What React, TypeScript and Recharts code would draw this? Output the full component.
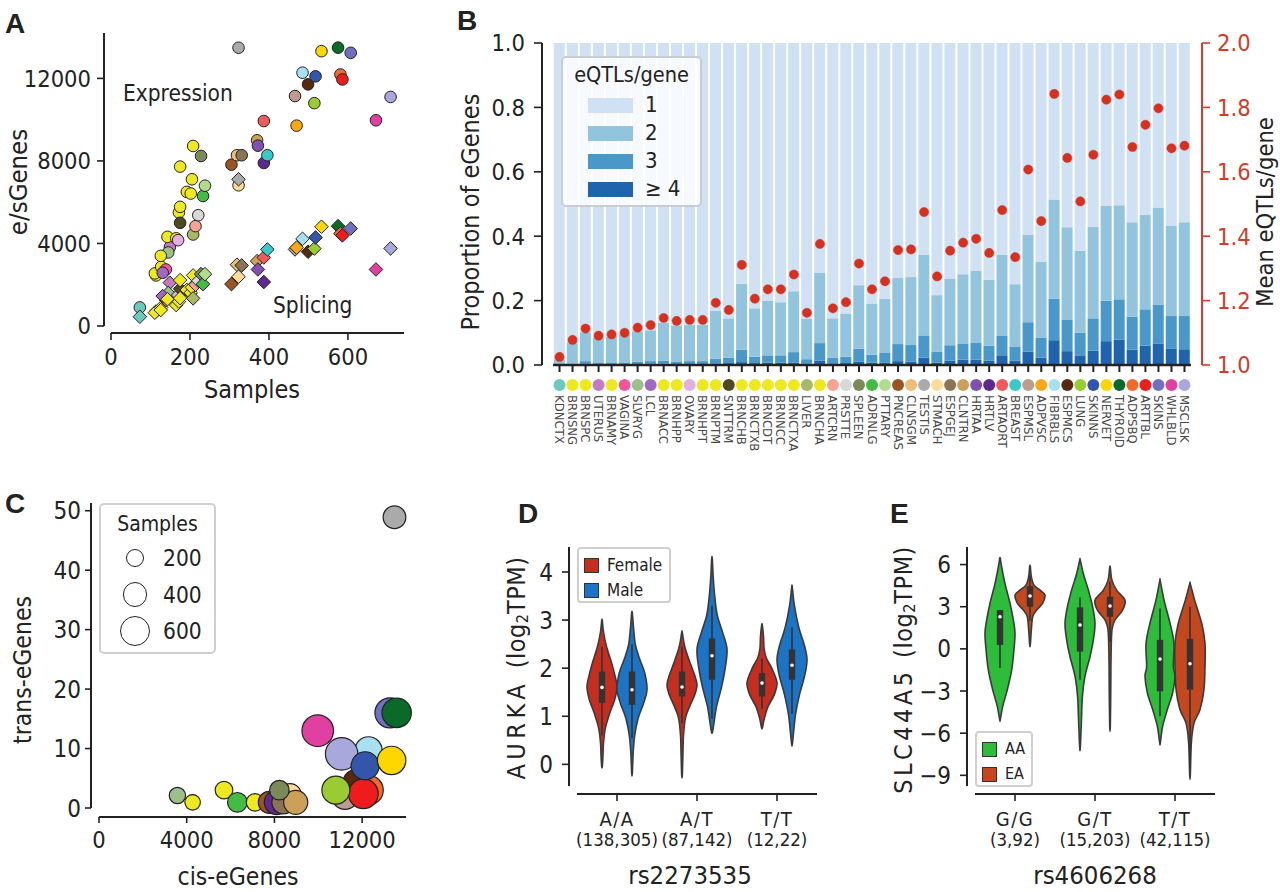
import React from 'react';
import {
  ScatterChart,
  Scatter,
  XAxis,
  YAxis,
  ZAxis,
  Cell,
  ComposedChart,
  BarChart,
  Bar,
  Line,
} from 'recharts';

const FONT = "'Liberation Sans Narrow', 'DejaVu Sans Condensed', 'Roboto Condensed', 'Liberation Sans', sans-serif";
const INK = '#222';
const RED = '#d33b2a';

// tissues in the order of panel B
const tissues = [
  'KDNCTX', 'BRNSNG', 'BRNSPC', 'UTERUS', 'BRNAMY', 'VAGINA', 'SLVRYG', 'LCL', 'BRNACC', 'BRNHPP',
  'OVARY', 'BRNHPT', 'BRNPTM', 'SNTTRM', 'BRNCHB', 'BRNCTXB', 'BRNCDT', 'BRNNCC', 'BRNCTXA', 'LIVER',
  'BRNCHA', 'ARTCRN', 'PRSTTE', 'SPLEEN', 'ADRNLG', 'PTTARY', 'PNCREAS', 'CLNSGM', 'TESTIS', 'STMACH',
  'ESPGEJ', 'CLNTRN', 'HRTAA', 'HRTLV', 'ARTAORT', 'BREAST', 'ESPMSL', 'ADPVSC', 'FIBRBLS', 'ESPMCS',
  'LUNG', 'SKINNS', 'NERVET', 'THYROID', 'ADPSBQ', 'ARTTBL', 'SKINS', 'WHLBLD', 'MSCLSK',
];
const tissueColors = [
  '#6cc9be', '#eee81e', '#eee81e', '#c47ac0', '#eee81e', '#f2559e', '#9dbf8c', '#a068c0', '#eee81e', '#eee81e',
  '#e5aee0', '#eee81e', '#eee81e', '#4f4a1e', '#eee81e', '#eee81e', '#eee81e', '#eee81e', '#eee81e', '#a8b868',
  '#eee81e', '#f5a394', '#d8d8d8', '#7a8a58', '#44bb44', '#b0dc90', '#9a5525', '#edbd7a', '#aaaaaa', '#fddc9a',
  '#8b7355', '#cda05a', '#8050b0', '#5e2890', '#f25a5a', '#3cc8c8', '#bc9c8c', '#fba818', '#a8e0f2', '#552a10',
  '#99cc33', '#3355aa', '#ffd700', '#0a6a2a', '#f26a2a', '#ee1c1c', '#7070c0', '#e040a0', '#a8a8dd',
];

// panel A
const samples = [
  73, 114, 111, 149, 127, 139, 145, 131, 143, 165, 170, 126, 172, 175, 175, 175, 192, 202, 205, 208,
  208, 214, 221, 228, 233, 238, 305, 319, 323, 323, 331, 370, 372, 387, 387, 396, 466, 470, 485, 499,
  515, 518, 533, 575, 581, 586, 607, 671, 708,
];
const eGenes = [
  900, 2450, 2550, 3820, 2870, 2740, 3565, 2580, 4320, 4250, 4160, 3400, 5500, 5000, 7725, 5775, 6500, 6420, 7110, 4435,
  8725, 4840, 5370, 8240, 6300, 6800, 7820, 8275, 13485, 6820, 8275, 9000, 8740, 7900, 9935, 8275, 11145, 9710, 12275, 11710,
  10800, 12100, 13320, 13490, 12190, 11950, 13240, 9970, 11100,
];
const sGenes = [
  450, 700, 645, 2100, 900, 1260, 1600, 1450, 1300, 1015, 1500, 775, 1180, 1800, 2225, 1350, 1750, 1610, 1870, 1340,
  2450, 2000, 2190, 2515, 2030, 2515, 2030, 2970, 7110, 2390, 2935, 3145, 2740, 2130, 3320, 3710, 3710, 3800, 4225, 3600,
  3750, 4290, 4810, 4840, 4480, 4390, 4725, 2740, 3760,
];

// panel B
const propTwo = [
  0.015, 0.067, 0.09, 0.079, 0.082, 0.089, 0.095, 0.096, 0.117, 0.112, 0.112, 0.112, 0.148, 0.123, 0.205, 0.15, 0.169, 0.165, 0.189, 0.126,
  0.218, 0.123, 0.134, 0.197, 0.159, 0.167, 0.205, 0.211, 0.25, 0.175, 0.208, 0.215, 0.222, 0.205, 0.253, 0.195, 0.272, 0.236, 0.308, 0.288,
  0.255, 0.284, 0.294, 0.292, 0.293, 0.294, 0.301, 0.28, 0.291,
];
const propThree = [
  0.002, 0.003, 0.007, 0.004, 0.004, 0.004, 0.007, 0.008, 0.01, 0.008, 0.009, 0.009, 0.015, 0.016, 0.038, 0.02, 0.023, 0.023, 0.032, 0.014,
  0.054, 0.017, 0.02, 0.041, 0.025, 0.031, 0.053, 0.051, 0.069, 0.034, 0.048, 0.05, 0.053, 0.047, 0.062, 0.043, 0.092, 0.061, 0.129, 0.097,
  0.07, 0.1, 0.126, 0.125, 0.102, 0.113, 0.121, 0.102, 0.103,
];
const propFourPlus = [
  0.001, 0.001, 0.005, 0.002, 0.002, 0.002, 0.003, 0.004, 0.004, 0.003, 0.003, 0.003, 0.005, 0.006, 0.009, 0.006, 0.007, 0.007, 0.008, 0.004,
  0.014, 0.005, 0.006, 0.01, 0.007, 0.008, 0.012, 0.011, 0.023, 0.008, 0.013, 0.017, 0.017, 0.013, 0.028, 0.013, 0.041, 0.023, 0.077, 0.043,
  0.03, 0.045, 0.074, 0.079, 0.048, 0.06, 0.067, 0.05, 0.049,
];
const meanEqtls = [
  1.025, 1.078, 1.113, 1.091, 1.095, 1.1, 1.116, 1.124, 1.146, 1.137, 1.14, 1.14, 1.193, 1.171, 1.311, 1.206, 1.235, 1.235, 1.281, 1.162,
  1.376, 1.176, 1.195, 1.315, 1.235, 1.26, 1.357, 1.359, 1.475, 1.275, 1.355, 1.38, 1.392, 1.348, 1.481, 1.335, 1.607, 1.447, 1.842, 1.643,
  1.508, 1.653, 1.824, 1.84, 1.677, 1.746, 1.797, 1.673, 1.681,
];
const eqtlLevels = ['1', '2', '3', '\u2265 4'];
const eqtlColors = ['#cfe1f2', '#93c4de', '#4a98c9', '#1f64ad'];

// panel C
const transTissues = [
  'SLVRYG', 'BRNHPT', 'BRNCTXB', 'ADRNLG', 'BRNCHB', 'STMACH', 'PNCREAS', 'HRTLV', 'ESPGEJ', 'CLNTRN',
  'SPLEEN', 'WHLBLD', 'FIBRBLS', 'MSCLSK', 'ESPMSL', 'ESPMCS', 'ADPSBQ', 'ARTTBL', 'LUNG', 'SKINNS',
  'NERVET', 'SKINS', 'THYROID', 'TESTIS',
];
const transCis = [
  3575, 4270, 5700, 6310, 7115, 8710, 7770, 8100, 8405, 8970, 8225, 9975, 12290, 11065, 11220, 11750, 12290, 12055, 10800, 12135,
  13345, 13270, 13575, 13475,
];
const transCount = [
  2.1, 0.95, 3.0, 0.95, 0.95, 2.2, 0.95, 0.95, 0.95, 0.95, 3.0, 13.0, 9.7, 9.1, 2.0, 4.2, 3.0, 2.4, 3.0, 7.1,
  8.0, 16.0, 16.0, 48.9,
];
const sampleLegend = [200, 400, 600];

// panel D: violin outlines as [value, relative half-width], boxes as [q1, median, q3, whiskerLow, whiskerHigh]
const aurkaGenotypes = ['A/A', 'A/T', 'T/T'];
const aurkaCounts = ['(138,305)', '(87,142)', '(12,22)'];
const aurkaFemaleShapes = [
  [[2.99, 0.02], [2.75, 0.1], [2.45, 0.3], [2.1, 0.65], [1.8, 0.9], [1.6, 1.0], [1.35, 0.85], [1.05, 0.5], [0.75, 0.22], [0.45, 0.1], [0.15, 0.06], [-0.05, 0.02]],
  [[2.74, 0.02], [2.45, 0.18], [2.1, 0.55], [1.85, 0.85], [1.65, 1.0], [1.45, 0.85], [1.2, 0.5], [0.95, 0.22], [0.6, 0.1], [0.2, 0.06], [-0.23, 0.02]],
  [[2.9, 0.02], [2.66, 0.1], [2.4, 0.14], [2.2, 0.3], [2.0, 0.65], [1.7, 1.0], [1.45, 0.82], [1.2, 0.4], [0.95, 0.15], [0.76, 0.03]],
];
const aurkaMaleShapes = [
  [[3.15, 0.02], [2.85, 0.1], [2.5, 0.22], [2.2, 0.5], [1.9, 0.85], [1.55, 1.0], [1.25, 0.75], [0.95, 0.4], [0.6, 0.18], [0.25, 0.08], [-0.19, 0.02]],
  [[4.28, 0.02], [3.9, 0.08], [3.5, 0.18], [3.1, 0.35], [2.75, 0.7], [2.4, 1.0], [2.0, 0.88], [1.6, 0.63], [1.2, 0.3], [0.9, 0.15], [0.67, 0.03]],
  [[3.68, 0.02], [3.3, 0.16], [2.85, 0.45], [2.45, 0.85], [2.17, 1.0], [1.85, 0.85], [1.45, 0.5], [1.05, 0.24], [0.65, 0.1], [0.41, 0.02]],
];
const aurkaFemaleBoxes = [[1.28, 1.6, 1.93, 0.6, 2.45], [1.41, 1.61, 1.93, 0.85, 2.45], [1.41, 1.69, 1.9, 1.15, 2.2]];
const aurkaMaleBoxes = [[1.24, 1.55, 1.93, 0.55, 2.5], [1.76, 2.26, 2.62, 0.95, 3.3], [1.76, 2.06, 2.39, 1.05, 2.85]];

// panel E
const slcGenotypes = ['G/G', 'G/T', 'T/T'];
const slcCounts = ['(3,92)', '(15,203)', '(42,115)'];
const slcAAShapes = [
  [[6.43, 0.02], [5.83, 0.11], [4.65, 0.33], [3.24, 0.67], [2.05, 0.89], [1.11, 1.0], [-0.07, 0.93], [-1.49, 0.78], [-2.9, 0.49], [-4.09, 0.18], [-5.03, 0.02]],
  [[6.31, 0.02], [5.36, 0.22], [4.18, 0.56], [3.0, 0.84], [1.82, 1.0], [0.64, 0.89], [-0.54, 0.67], [-1.96, 0.33], [-3.38, 0.16], [-5.27, 0.09], [-7.04, 0.02]],
  [[4.82, 0.02], [3.47, 0.27], [1.82, 0.67], [0.4, 0.93], [-1.25, 0.89], [-1.96, 1.0], [-3.14, 0.84], [-4.32, 0.49], [-5.5, 0.18], [-6.69, 0.02]],
];
const slcEAShapes = [
  [[5.88, 0.02], [5.13, 0.09], [4.54, 0.27], [4.18, 0.67], [3.83, 1.0], [3.24, 0.84], [2.76, 0.44], [2.29, 0.18], [1.35, 0.09], [0.28, 0.02]],
  [[5.79, 0.02], [4.89, 0.13], [4.18, 0.44], [3.47, 1.0], [2.76, 0.84], [2.05, 0.33], [1.35, 0.13], [-0.54, 0.07], [-3.0, 0.05], [-5.55, 0.02]],
  [[4.61, 0.02], [3.47, 0.31], [1.82, 0.78], [0.4, 1.0], [-1.25, 1.0], [-2.9, 0.93], [-4.32, 0.67], [-5.27, 0.27], [-6.69, 0.09], [-9.0, 0.02]],
];
const slcAABoxes = [[0.28, 2.29, 2.76, -1.37, 2.76], [-0.19, 1.7, 2.95, -2.2, 3.66], [-3.02, -0.73, 0.64, -4.8, 2.88]];
const slcEABoxes = [[3.0, 3.76, 4.46, 2.0, 5.2], [2.29, 3.05, 3.71, 0.5, 4.8], [-2.9, -1.06, 0.71, -8.46, 3.0]];

const FEMALE = '#c62d1f';
const MALE = '#1b74c5';
const AA = '#2ebd3a';
const EA = '#c4471d';

// ---------- helpers

const colorOf: Record<string, string> = {};
tissues.forEach((t, i) => (colorOf[t] = tissueColors[i]));
const samplesOf: Record<string, number> = {};
tissues.forEach((t, i) => (samplesOf[t] = samples[i]));

const expressionPoints = tissues.map((t, i) => ({ tissue: t, samples: samples[i], genes: eGenes[i], color: tissueColors[i] }));
const splicingPoints = tissues.map((t, i) => ({ tissue: t, samples: samples[i], genes: sGenes[i], color: tissueColors[i] }));

const eqtlRows = tissues.map((t, i) => ({
  tissue: t,
  four: propFourPlus[i],
  three: propThree[i],
  two: propTwo[i],
  one: 1 - propFourPlus[i] - propThree[i] - propTwo[i],
  mean: meanEqtls[i],
}));

const transRows = transTissues.map((t, i) => ({ tissue: t, cis: transCis[i], trans: transCount[i], samples: samplesOf[t], color: colorOf[t] }));

// bubble area = 52 + 1.09 * samples (px^2), same mapping as the ZAxis below
const Z_DOMAIN = [0, 720];
const Z_RANGE = [52, 52 + 720 * 1.09];
const bubbleRadius = (s: number) => Math.sqrt((Z_RANGE[0] + ((Z_RANGE[1] - Z_RANGE[0]) * s) / Z_DOMAIN[1]) / Math.PI);

function violin(shape: number[][], box: number[]) {
  return { profile: shape, hi: shape[0][0], lo: shape[shape.length - 1][0], box };
}

const aurkaRows = aurkaGenotypes.map((g, i) => ({
  genotype: g,
  count: aurkaCounts[i],
  a: violin(aurkaFemaleShapes[i], aurkaFemaleBoxes[i]),
  b: violin(aurkaMaleShapes[i], aurkaMaleBoxes[i]),
}));
const slcRows = slcGenotypes.map((g, i) => ({
  genotype: g,
  count: slcCounts[i],
  a: violin(slcAAShapes[i], slcAABoxes[i]),
  b: violin(slcEAShapes[i], slcEABoxes[i]),
}));

function closedCurve(pts: number[][]) {
  const n = pts.length;
  let d = `M${pts[0][0]},${pts[0][1]}`;
  for (let i = 0; i < n; i++) {
    const p0 = pts[(i - 1 + n) % n];
    const p1 = pts[i];
    const p2 = pts[(i + 1) % n];
    const p3 = pts[(i + 2) % n];
    d += `C${p1[0] + (p2[0] - p0[0]) / 6},${p1[1] + (p2[1] - p0[1]) / 6} ${p2[0] - (p3[0] - p1[0]) / 6},${p2[1] - (p3[1] - p1[1]) / 6} ${p2[0]},${p2[1]}`;
  }
  return d + 'Z';
}

const violinShape = (key: 'a' | 'b', fill: string) => (props: any) => {
  const { x, y, width, height, payload } = props;
  const v = payload[key];
  const toY = (val: number) => y + ((v.hi - val) / (v.hi - v.lo)) * height;
  const cx = x + width / 2;
  const half = width / 2;
  const right = v.profile.map(([val, w]: number[]) => [cx + w * half, toY(val)]);
  const left = v.profile.slice().reverse().map(([val, w]: number[]) => [cx - w * half, toY(val)]);
  const [q1, med, q3, wlo, whi] = v.box;
  return (
    <g>
      <path d={closedCurve(right.concat(left))} fill={fill} stroke="#3a3a3a" strokeWidth={1.6} />
      <line x1={cx} x2={cx} y1={toY(whi)} y2={toY(wlo)} stroke="#333" strokeWidth={1.6} />
      <rect x={cx - 3.2} width={6.4} y={toY(q3)} height={toY(q1) - toY(q3)} fill="#333" />
      <circle cx={cx} cy={toY(med)} r={1.8} fill="#fff" />
    </g>
  );
};

const CircleMark = (p: any) => <circle cx={p.cx} cy={p.cy} r={5.8} fill={p.payload.color} stroke={INK} strokeWidth={1} />;
const DiamondMark = (p: any) => (
  <polygon
    points={`${p.cx},${p.cy - 6.8} ${p.cx + 6.8},${p.cy} ${p.cx},${p.cy + 6.8} ${p.cx - 6.8},${p.cy}`}
    fill={p.payload.color}
    stroke={INK}
    strokeWidth={1}
  />
);

// axis title placed in the chart's svg; "rot" instead of "angle" so the Label defaults do not override it
const AxisTitle = ({ tx, ty, text, rot = 0, size = 24, fill = INK, children }: any) => (
  <text
    x={tx}
    y={ty}
    transform={rot ? `rotate(${rot},${tx},${ty})` : undefined}
    textAnchor="middle"
    dominantBaseline="central"
    fontSize={size}
    fill={fill}
  >
    {children || text}
  </text>
);

// numeric tick with an explicit font size (size / color / fmt do not clash with the props recharts injects)
const NumTick = (props: any) => {
  const { x, y, payload, textAnchor, verticalAnchor, size = 23.5, color = INK, fmt } = props;
  const label = fmt ? fmt(payload.value) : String(payload.value);
  const dy = verticalAnchor === 'start' ? '0.71em' : verticalAnchor === 'end' ? '0' : '0.355em';
  return (
    <text x={x} y={y} dy={dy} textAnchor={textAnchor} fontSize={size} fill={color}>
      {label}
    </text>
  );
};

const TissueTick = (props: any) => {
  const { x, y, payload } = props;
  const name = payload.value;
  return (
    <g>
      <circle cx={x} cy={y + 13} r={6} fill={colorOf[name]} />
      <text transform={`translate(${x},${y + 23}) rotate(90)`} textAnchor="start" dominantBaseline="central" fontSize={13} fill="#4a4a4a">
        {name}
      </text>
    </g>
  );
};

const GenotypeTick = (props: any) => {
  const { x, y, payload, index, counts } = props;
  return (
    <g>
      <text x={x} y={y + 25} textAnchor="middle" fontSize={20} fill={INK} letterSpacing={1.5}>
        {payload.value}
      </text>
      <text x={x} y={y + 45} textAnchor="middle" fontSize={18.5} fill={INK}>
        {counts[index]}
      </text>
    </g>
  );
};

const spine = { stroke: INK, strokeWidth: 2 };
const tickLine = { stroke: INK, strokeWidth: 1.6 };
const minusFmt = (v: number) => (v < 0 ? `\u2212${-v}` : `${v}`);
const oneDecimal = (v: number) => v.toFixed(1);

const PanelLetter = ({ left, top, text }: any) => (
  <div style={{ position: 'absolute', left, top, fontFamily: "'Liberation Sans', Arial, sans-serif", fontWeight: 700, fontSize: 28, lineHeight: '28px' }}>
    {text}
  </div>
);

function PanelA() {
  return (
    <div style={{ position: 'absolute', left: 0, top: 0 }}>
      <ScatterChart width={420} height={410} margin={{ top: 33, right: 16, bottom: 0, left: 0 }}>
        <XAxis
          type="number"
          dataKey="samples"
          domain={[0, 742]}
          ticks={[0, 200, 400, 600]}
          padding={{ left: 7 }}
          height={77}
          tickSize={7}
          tickMargin={8}
          tick={<NumTick />}
          tickLine={tickLine}
          axisLine={{ ...spine, strokeDasharray: '0 7 293 20' }}
          label={<AxisTitle tx={252} ty={389} text="Samples" size={25} />}
        />
        <YAxis
          type="number"
          dataKey="genes"
          domain={[0, 14200]}
          ticks={[0, 4000, 8000, 12000]}
          padding={{ bottom: 7 }}
          width={104}
          tickSize={7}
          tickMargin={6}
          tick={<NumTick />}
          tickLine={tickLine}
          axisLine={{ ...spine, strokeDasharray: '293 20' }}
          label={<AxisTitle tx={18} ty={182} rot={-90} text="e/sGenes" size={25.5} />}
        />
        <Scatter data={expressionPoints} shape={CircleMark} isAnimationActive={false} />
        <Scatter data={splicingPoints} shape={DiamondMark} isAnimationActive={false} />
      </ScatterChart>
      <div style={{ position: 'absolute', left: 123, top: 82, fontSize: 22.5, lineHeight: '23px', whiteSpace: 'nowrap' }}>Expression</div>
      <div style={{ position: 'absolute', left: 273, top: 294, fontSize: 22.5, lineHeight: '23px', whiteSpace: 'nowrap' }}>Splicing</div>
    </div>
  );
}

function PanelB() {
  const keys = ['one', 'two', 'three', 'four'];
  return (
    <div style={{ position: 'absolute', left: 440, top: 0 }}>
      <ComposedChart width={840} height={460} data={eqtlRows} margin={{ top: 43, right: 0, bottom: 0, left: 0 }} barCategoryGap={0.8}>
        <XAxis
          dataKey="tissue"
          interval={0}
          padding={{ left: 11, right: 11 }}
          height={95}
          tickSize={7}
          tickMargin={0}
          tick={<TissueTick />}
          tickLine={{ stroke: INK, strokeWidth: 2 }}
          axisLine={{ stroke: INK, strokeWidth: 2.6, strokeDasharray: '0 11 638 20' }}
        />
        <YAxis
          yAxisId="left"
          domain={[0, 1]}
          ticks={[0, 0.2, 0.4, 0.6, 0.8, 1]}
          width={102}
          tickSize={8}
          tickMargin={9}
          tick={<NumTick fmt={oneDecimal} />}
          tickLine={tickLine}
          axisLine={spine}
          label={<AxisTitle tx={30} ty={212} rot={-90} text="Proportion of eGenes" size={25} />}
        />
        <YAxis
          yAxisId="right"
          orientation="right"
          domain={[1, 2]}
          ticks={[1, 1.2, 1.4, 1.6, 1.8, 2]}
          width={78}
          tickSize={8}
          tickMargin={7}
          tick={<NumTick color={RED} fmt={oneDecimal} />}
          tickLine={{ stroke: RED, strokeWidth: 1.6 }}
          axisLine={{ stroke: RED, strokeWidth: 2 }}
          label={<AxisTitle tx={825} ty={212} rot={-90} text="Mean eQTLs/gene" size={23.5} />}
        />
        {keys
          .slice()
          .reverse()
          .map((k) => (
            <Bar key={k} yAxisId="left" dataKey={k} stackId="s" fill={eqtlColors[keys.indexOf(k)]} isAnimationActive={false} />
          ))}
        <Line
          yAxisId="right"
          dataKey="mean"
          stroke="none"
          dot={{ r: 4.6, fill: '#d7301f', stroke: '#d7301f', strokeWidth: 0.5 }}
          activeDot={false}
          isAnimationActive={false}
        />
      </ComposedChart>
      <div
        style={{
          position: 'absolute',
          left: 121,
          top: 56,
          width: 141,
          height: 151,
          boxSizing: 'border-box',
          border: '2px solid #c9ccd0',
          borderRadius: 5,
          background: 'rgba(255,255,255,0.8)',
        }}
      >
        <div style={{ position: 'absolute', left: 0, width: 137, top: 6, textAlign: 'center', fontSize: 21.5, lineHeight: '22px' }}>eQTLs/gene</div>
        {eqtlLevels.map((lv, i) => (
          <div key={lv} style={{ position: 'absolute', left: 25, top: 36 + i * 28, display: 'flex', alignItems: 'center' }}>
            <div style={{ width: 45, height: 15, background: eqtlColors[i] }} />
            <div style={{ marginLeft: 12, fontSize: 22, lineHeight: '22px' }}>{lv}</div>
          </div>
        ))}
      </div>
    </div>
  );
}

function PanelC() {
  return (
    <div style={{ position: 'absolute', left: 0, top: 480 }}>
      <ScatterChart width={420} height={412} margin={{ top: 23, right: 14, bottom: 0, left: 0 }}>
        <XAxis
          type="number"
          dataKey="cis"
          domain={[0, 14000]}
          ticks={[0, 4000, 8000, 12000]}
          padding={{ left: 8 }}
          height={75}
          tickSize={6}
          tickMargin={8}
          tick={<NumTick />}
          tickLine={tickLine}
          axisLine={{ ...spine, strokeDasharray: '0 8 307 20' }}
          label={<AxisTitle tx={238} ty={396} text="cis-eGenes" size={24.5} />}
        />
        <YAxis
          type="number"
          dataKey="trans"
          domain={[0, 51.3]}
          ticks={[0, 10, 20, 30, 40, 50]}
          padding={{ bottom: 9 }}
          width={91}
          tickSize={6}
          tickMargin={4}
          tick={<NumTick size={24} />}
          tickLine={tickLine}
          axisLine={{ ...spine, strokeDasharray: '305 20' }}
          label={<AxisTitle tx={22} ty={190} rot={-90} text="trans-eGenes" size={24.5} />}
        />
        <ZAxis type="number" dataKey="samples" domain={Z_DOMAIN} range={Z_RANGE} />
        <Scatter data={transRows} shape="circle" isAnimationActive={false}>
          {transRows.map((d) => (
            <Cell key={d.tissue} fill={d.color} stroke={INK} strokeWidth={1.2} />
          ))}
        </Scatter>
      </ScatterChart>
      <div
        style={{
          position: 'absolute',
          left: 99,
          top: 23,
          width: 117,
          height: 151,
          boxSizing: 'border-box',
          border: '2px solid #cfcfcf',
          borderRadius: 5,
          background: '#fff',
        }}
      >
        <div style={{ position: 'absolute', left: 0, width: 113, top: 9, textAlign: 'center', fontSize: 21, lineHeight: '21px' }}>Samples</div>
        {sampleLegend.map((s, i) => {
          const r = bubbleRadius(s);
          return (
            <div key={s}>
              <div
                style={{
                  position: 'absolute',
                  left: 34 - r,
                  top: 53 + i * 36.5 - r,
                  width: 2 * r,
                  height: 2 * r,
                  boxSizing: 'border-box',
                  border: '1.3px solid #222',
                  borderRadius: '50%',
                }}
              />
              <div style={{ position: 'absolute', left: 62, top: 42 + i * 36.5, fontSize: 22.5, lineHeight: '22px' }}>{s}</div>
            </div>
          );
        })}
      </div>
    </div>
  );
}

function ViolinPanel({ left, rows, domain, ticks, colors, labels, yTitle, xTitle, legendPos }: any) {
  return (
    <div style={{ position: 'absolute', left, top: 500 }}>
      <BarChart
        width={420}
        height={392}
        data={rows}
        margin={{ top: 47, right: legendPos.chartRight, bottom: 0, left: 0 }}
        barGap={0}
        barCategoryGap={10}
      >
        <XAxis
          dataKey="genotype"
          padding={{ left: 8, right: 0 }}
          height={98}
          tickSize={7}
          tickMargin={0}
          tick={<GenotypeTick counts={rows.map((r: any) => r.count)} />}
          tickLine={tickLine}
          axisLine={{ ...spine, strokeDasharray: '0 8 240 20' }}
          label={<AxisTitle tx={legendPos.xTitleX} ty={375} text={xTitle} size={25.5} />}
        />
        <YAxis
          type="number"
          domain={domain}
          ticks={ticks}
          padding={{ bottom: 8 }}
          width={legendPos.axisWidth}
          tickSize={7}
          tickMargin={9}
          tick={<NumTick size={24} fmt={minusFmt} />}
          tickLine={tickLine}
          axisLine={{ ...spine, strokeDasharray: '239 20' }}
          label={yTitle}
        />
        <Bar dataKey={(d: any) => [d.a.lo, d.a.hi]} shape={violinShape('a', colors[0])} isAnimationActive={false} />
        <Bar dataKey={(d: any) => [d.b.lo, d.b.hi]} shape={violinShape('b', colors[1])} isAnimationActive={false} />
      </BarChart>
      <div
        style={{
          position: 'absolute',
          left: legendPos.left,
          top: legendPos.top,
          width: legendPos.width,
          height: 56,
          boxSizing: 'border-box',
          border: '2px solid #cfcfcf',
          borderRadius: 4,
          background: '#fff',
        }}
      >
        {labels.map((lb: string, i: number) => (
          <div key={lb} style={{ position: 'absolute', left: 5, top: 6 + i * 25, display: 'flex', alignItems: 'center' }}>
            <div style={{ width: 15, height: 15, boxSizing: 'border-box', border: '1px solid #333', background: colors[i] }} />
            <div style={{ marginLeft: 8, fontSize: legendPos.fontSize, lineHeight: '20px' }}>{lb}</div>
          </div>
        ))}
      </div>
    </div>
  );
}

export default function App() {
  return (
    <div
      style={{
        position: 'absolute',
        left: 0,
        top: 0,
        width: 1280,
        height: 892,
        background: '#fff',
        fontFamily: FONT,
        color: INK,
        overflow: 'hidden',
      }}
    >
      <PanelA />
      <PanelB />
      <PanelC />
      <ViolinPanel
        left={440}
        rows={aurkaRows}
        domain={[-0.45, 4.52]}
        ticks={[0, 1, 2, 3, 4]}
        colors={[FEMALE, MALE]}
        labels={['Female', 'Male']}
        xTitle="rs2273535"
        legendPos={{ left: 137, top: 47, width: 94, fontSize: 17, chartRight: 43, axisWidth: 129, xTitleX: 250 }}
        yTitle={
          <AxisTitle tx={76} ty={168} rot={-90} size={25}>
            <tspan letterSpacing={4.5}>AURKA </tspan>
            <tspan letterSpacing={0.5}>(log</tspan>
            <tspan dy={6} fontSize={16}>2</tspan>
            <tspan dy={-6} letterSpacing={0.5}>TPM)</tspan>
          </AxisTitle>
        }
      />
      <ViolinPanel
        left={860}
        rows={slcRows}
        domain={[-9.76, 7.25]}
        ticks={[-9, -6, -3, 0, 3, 6]}
        colors={[AA, EA]}
        labels={['AA', 'EA']}
        xTitle="rs4606268"
        legendPos={{ left: 115, top: 231, width: 58, fontSize: 16, chartRight: 65, axisWidth: 107, xTitleX: 235 }}
        yTitle={
          <AxisTitle tx={43} ty={170} rot={-90} size={25}>
            <tspan letterSpacing={3.5}>SLC44A5 </tspan>
            <tspan letterSpacing={0.5}>(log</tspan>
            <tspan dy={6} fontSize={16}>2</tspan>
            <tspan dy={-6} letterSpacing={0.5}>TPM)</tspan>
          </AxisTitle>
        }
      />
      <PanelLetter left={5} top={10} text="A" />
      <PanelLetter left={457} top={7} text="B" />
      <PanelLetter left={5} top={490} text="C" />
      <PanelLetter left={518} top={500} text="D" />
      <PanelLetter left={890} top={500} text="E" />
    </div>
  );
}
